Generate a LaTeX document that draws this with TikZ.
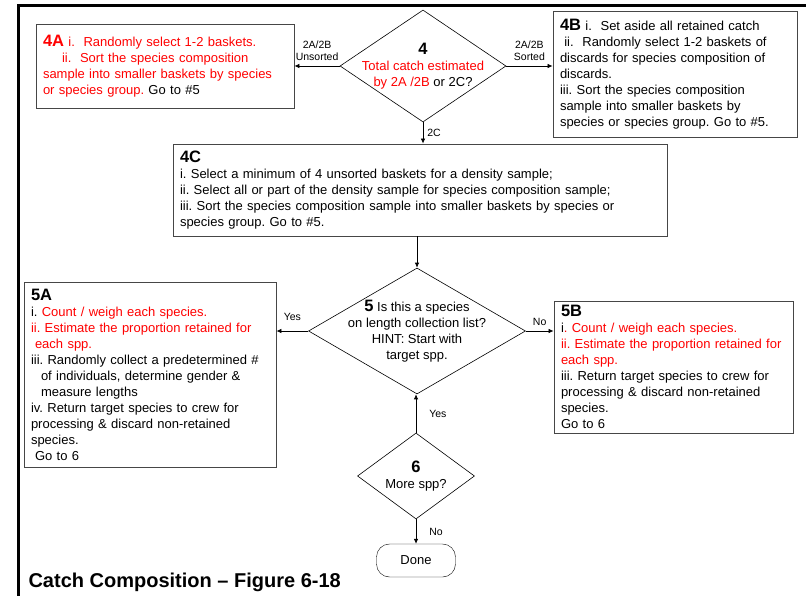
\documentclass[tikz,border=0pt]{standalone}
\usepackage{fontspec}
\setmainfont{Liberation Sans}
\usepackage{tikz}
\usetikzlibrary{arrows.meta,positioning,shapes.geometric}
\definecolor{catchred}{RGB}{255,0,0}
\definecolor{boxgray}{RGB}{70,70,70}

\newcommand{\stepno}[1]{{\fontsize{16.5}{16}\selectfont\bfseries #1}}
\frenchspacing

\begin{document}
\begin{tikzpicture}[x=1pt, y=-1pt,
    every node/.style={font=\fontsize{13}{16}\selectfont, align=left},
    procbox/.style={draw=boxgray, line width=0.9pt, inner xsep=7pt, inner ysep=0pt},
    decision/.style={draw, diamond, inner sep=0pt, line width=0.6pt},
    flow/.style={-{Latex[length=5pt,width=4.5pt]}, line width=0.7pt},
    flowlabel/.style={font=\fontsize{10.5}{12}\selectfont, align=center, inner sep=1pt}]
    \useasboundingbox (0,0) rectangle (806,596);

    % slide frame
    \draw[line width=3pt] (18.5,596) -- (18.5,5.5) -- (806,5.5);

    % step 4
    \node[decision, minimum width=166pt, minimum height=112pt,
          label={[align=center]center:{\stepno{4}\\\textcolor{catchred}{Total catch estimated}\\\textcolor{catchred}{by 2A /2B} or 2C?}}] (q4) at (423,66) {};
    \node[procbox, text=catchred, text width=244pt, minimum width=258pt, minimum height=84pt] (a4A) at (165,66)
        {\stepno{4A} i.\ \ Randomly select 1-2 baskets.\\
         \hspace*{19pt}ii.\ \ Sort the species composition\\
         sample into smaller baskets by species\\
         or species group. \textcolor{black}{Go to \#5}};
    \node[procbox, text width=230pt, minimum width=244pt, minimum height=126pt] (b4B) at (675,74)
        {\stepno{4B} i.\ \ Set aside all retained catch\\
         \ ii.\ \ Randomly select 1-2 baskets of\\
         discards for species composition of\\
         discards.\\
         iii. Sort the species composition\\
         sample into smaller baskets by\\
         species or species group. Go to \#5.};
    \node[procbox, text width=480pt, minimum width=494pt, minimum height=92pt] (c4C) at (420,190)
        {\stepno{4C}\\
         i. Select a minimum of 4 unsorted baskets for a density sample;\\
         ii. Select all or part of the density sample for species composition sample;\\
         iii. Sort the species composition sample into smaller baskets by species or\\
         species group. Go to \#5.};

    % step 5
    \node[decision, minimum width=217pt, minimum height=126pt,
          label={[align=center]center:{\stepno{5} Is this a species\\on length collection list?\\HINT: Start with\\target spp.}}] (q5) at (417,331) {};
    \node[procbox, text width=238pt, minimum width=252pt, minimum height=185pt] (a5A) at (150,374.5)
        {\stepno{5A}\\
         i. \textcolor{catchred}{Count / weigh each species.}\\
         \textcolor{catchred}{ii. Estimate the proportion retained for}\\
         \hspace*{4pt}\textcolor{catchred}{each spp.}\\
         iii. Randomly collect a predetermined \#\\
         \hspace*{10pt}of individuals, determine gender \&\\
         \hspace*{10pt}measure lengths\\
         iv. Return target species to crew for\\
         processing \& discard non-retained\\
         species.\\
         \hspace*{4pt}Go to 6};
    \node[procbox, text width=225pt, minimum width=239pt, minimum height=132pt] (b5B) at (673.5,367)
        {\stepno{5B}\\
         i\textcolor{catchred}{. Count / weigh each species.}\\
         \textcolor{catchred}{ii. Estimate the proportion retained for}\\
         \textcolor{catchred}{each spp.}\\
         iii. Return target species to crew for\\
         processing \& discard non-retained\\
         species.\\
         Go to 6};

    % step 6
    \node[decision, minimum width=117pt, minimum height=86pt,
          label={[align=center]center:{\stepno{6}\\More spp?}}] (q6) at (416,476) {};
    \node[draw, rounded corners=13pt, minimum width=79pt, minimum height=33pt, align=center] (done) at (416,560.5) {Done};

    \node[anchor=base west, font=\fontsize{20}{22}\selectfont\bfseries] (title) at (25,587) {Catch Composition -- Figure 6-18};

    \draw[flow] (q4.west) -- node[flowlabel, above=4pt] {2A/2B\\Unsorted} (a4A.east);
    \draw[flow] (q4.east) -- node[flowlabel, above=4pt] {2A/2B\\Sorted} (q4.east -| b4B.west);
    \draw[flow] (q4.south) -- node[flowlabel, right=3pt] {2C} (q4.south |- c4C.north);
    \draw[flow] (q5.north |- c4C.south) -- (q5.north);
    \draw[flow] (q5.west) -- node[flowlabel, above=9pt] {Yes} (q5.west -| a5A.east);
    \draw[flow] (q5.east) -- node[flowlabel, above=4pt] {No} (q5.east -| b5B.west);
    \draw[flow] (q6.north) -- node[flowlabel, right=12pt] {Yes} (q6.north |- q5.south);
    \draw[flow] (q6.south) -- node[flowlabel, right=12pt] {No} (done.north);
\end{tikzpicture}
\end{document}
